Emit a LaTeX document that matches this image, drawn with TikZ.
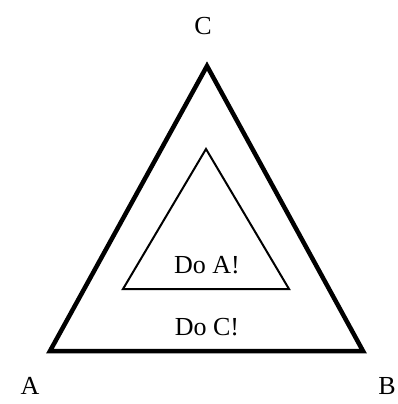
\documentclass[tikz,border=0pt]{standalone}
\usepackage{fontspec}
\setmainfont{Liberation Serif}
\begin{document}
\begin{tikzpicture}[x=1pt, y=-1pt, font=\fontsize{26}{30}\selectfont]
    \useasboundingbox (0,0) rectangle (397,404);

    % outer triangle
    \coordinate (outA) at (50,351);
    \coordinate (outB) at (363,351);
    \coordinate (outC) at (207,66);
    \draw[line width=4.5pt, line join=miter] (outA) -- (outB) -- (outC) -- cycle;

    % inner triangle
    \coordinate (inA) at (123,289);
    \coordinate (inB) at (289,289);
    \coordinate (inC) at (206,149);
    \draw[line width=2pt, line join=miter] (inA) -- (inB) -- (inC) -- cycle;

    % labels
    \node (labC) at (203,26) {C};
    \node (labA) at (30,386) {A};
    \node (labB) at (387,386) {B};
    \node (doA) at (207,265) {Do A!};
    \node (doC) at (207,327) {Do C!};
\end{tikzpicture}
\end{document}
